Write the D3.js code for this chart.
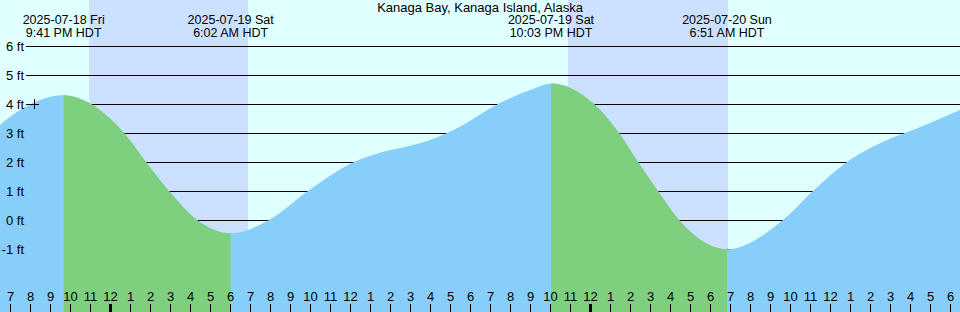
<!DOCTYPE html>
<html>
<head>
<meta charset="utf-8">
<script src="https://cdn.jsdelivr.net/npm/d3@7"></script>
<style>
  html, body { margin: 0; padding: 0; background: #fff; }
  svg { display: block; font-family: "Liberation Sans", Arial, sans-serif; }
</style>
</head>
<body>
<div id="chart"></div>
<script>
const title = 'Kanaga Bay, Kanaga Island, Alaska';

// tide height samples (local HDT wall time, feet)
const sampleTimes = [
  '2025-07-18T18:30', '2025-07-18T19:30', '2025-07-18T20:30', '2025-07-18T21:41',
  '2025-07-18T23:03', '2025-07-19T00:42', '2025-07-19T01:48', '2025-07-19T02:57',
  '2025-07-19T04:21', '2025-07-19T06:02', '2025-07-19T07:57', '2025-07-19T09:54',
  '2025-07-19T12:12', '2025-07-19T13:30', '2025-07-19T15:09', '2025-07-19T16:00',
  '2025-07-19T16:51', '2025-07-19T17:39', '2025-07-19T19:24', '2025-07-19T21:00',
  '2025-07-19T22:03', '2025-07-20T00:12', '2025-07-20T01:27', '2025-07-20T02:24',
  '2025-07-20T03:24', '2025-07-20T04:27', '2025-07-20T06:51', '2025-07-20T09:39',
  '2025-07-20T11:09', '2025-07-20T12:51', '2025-07-20T14:00', '2025-07-20T14:51',
  '2025-07-20T15:45', '2025-07-20T17:21', '2025-07-20T18:30'
];
const sampleLevels = [
  3.28, 3.79, 4.14, 4.30,
  4.00, 3.00, 2.00, 1.00,
  0.00, -0.46, 0.00, 1.00,
  2.00, 2.32, 2.59, 2.76,
  3.00, 3.28, 4.00, 4.48,
  4.71, 4.00, 3.00, 2.00,
  1.00, 0.00, -1.01, 0.00,
  1.00, 2.00, 2.47, 2.76,
  3.00, 3.45, 3.79
];

// high / low events labelled along the top
const eventTimes = ['2025-07-18T21:41', '2025-07-19T06:02', '2025-07-19T22:03', '2025-07-20T06:51'];
const eventTypes = ['high', 'low', 'high', 'low'];

// night (sunset -> sunrise)
const nightStarts = ['2025-07-18T22:57', '2025-07-19T22:54'];
const nightEnds = ['2025-07-19T06:54', '2025-07-20T06:54'];

const yTicks = [-1, 0, 1, 2, 3, 4, 5, 6];
const domainStart = '2025-07-18T18:30';
const domainEnd = '2025-07-20T18:30';

const width = 960, height = 312;
const colors = { day: '#e0ffff', night: '#cce0ff', flood: '#87cefa', ebb: '#7ecf7e', ink: '#000' };

const parse = (s) => new Date(s + ':00Z'); // wall-clock time kept as UTC
const data = sampleTimes.map((t, i) => ({ t: parse(t), v: sampleLevels[i] }));

const x = d3.scaleUtc()
  .domain([parse(domainStart), parse(domainEnd)])
  .range([0, width]);
const y = d3.scaleLinear()
  .domain([-1, 6])
  .range([249, 46]);

const svg = d3.select('#chart').append('svg')
  .attr('width', width)
  .attr('height', height);

// background: day, then night bands
svg.append('rect')
  .attr('width', width).attr('height', height)
  .attr('fill', colors.day);
svg.selectAll('rect.night')
  .data(nightStarts.map((s, i) => [parse(s), parse(nightEnds[i])]))
  .enter().append('rect')
  .attr('class', 'night')
  .attr('x', (d) => x(d[0]))
  .attr('width', (d) => x(d[1]) - x(d[0]))
  .attr('y', 0).attr('height', height)
  .attr('fill', colors.night);

// foot lines, covered later by the water
svg.selectAll('line.grid')
  .data(yTicks.filter((d) => d > -1 || true))
  .enter().append('line')
  .attr('class', 'grid')
  .attr('x1', 26).attr('x2', width)
  .attr('y1', (d) => y(d)).attr('y2', (d) => y(d))
  .attr('stroke', colors.ink)
  .attr('stroke-width', 1)
  .attr('shape-rendering', 'crispEdges');

// water
const area = d3.area()
  .curve(d3.curveMonotoneX)
  .x((d) => x(d.t))
  .y0(height)
  .y1((d) => y(d.v));

svg.append('path')
  .datum(data)
  .attr('d', area)
  .attr('fill', colors.flood);

// ebbing stretches (high -> following low) in green
const ebbs = [];
eventTypes.forEach((type, i) => {
  if (type === 'high' && eventTimes[i + 1]) ebbs.push([parse(eventTimes[i]), parse(eventTimes[i + 1])]);
});
const defs = svg.append('defs');
const clip = defs.append('clipPath').attr('id', 'ebb-clip');
clip.selectAll('rect')
  .data(ebbs)
  .enter().append('rect')
  .attr('x', (d) => x(d[0]))
  .attr('width', (d) => x(d[1]) - x(d[0]))
  .attr('y', 0).attr('height', height);

svg.append('path')
  .datum(data)
  .attr('d', area)
  .attr('fill', colors.ebb)
  .attr('clip-path', 'url(#ebb-clip)');

// y labels
svg.selectAll('text.ylab')
  .data(yTicks)
  .enter().append('text')
  .attr('class', 'ylab')
  .attr('x', 24)
  .attr('y', (d) => y(d))
  .attr('dy', '0.35em')
  .attr('text-anchor', 'end')
  .attr('font-size', 13)
  .attr('fill', colors.ink)
  .text((d) => d + ' ft');

// small cross marker near the 4 ft label
const mark = svg.append('g')
  .attr('stroke', colors.ink)
  .attr('stroke-width', 1)
  .attr('shape-rendering', 'crispEdges');
mark.append('line').attr('x1', 29).attr('x2', 39).attr('y1', y(4)).attr('y2', y(4));
mark.append('line').attr('x1', 34).attr('x2', 34).attr('y1', y(4) - 5).attr('y2', y(4) + 5);

// hour axis at the bottom
const hourAxis = d3.axisTop(x)
  .ticks(d3.utcHour.every(1))
  .tickFormat(d3.utcFormat('%-I'))
  .tickSize(8)
  .tickPadding(3);

const axisG = svg.append('g')
  .attr('transform', `translate(0,${height})`)
  .call(hourAxis);
axisG.select('.domain').remove();
axisG.selectAll('text')
  .attr('font-size', 13)
  .attr('font-family', '"Liberation Sans", Arial, sans-serif')
  .attr('fill', colors.ink);
axisG.selectAll('.tick line')
  .attr('stroke', colors.ink)
  .attr('stroke-width', (d) => (d.getUTCHours() === 0 ? 3 : 1));

// title and event labels
svg.append('text')
  .attr('x', width / 2)
  .attr('y', 11.5)
  .attr('text-anchor', 'middle')
  .attr('font-size', 13)
  .attr('fill', colors.ink)
  .text(title);

const fmtDate = d3.utcFormat('%Y-%m-%d %a');
const fmtTime = d3.utcFormat('%-I:%M %p HDT');
const labels = svg.selectAll('g.event')
  .data(eventTimes.map(parse))
  .enter().append('g')
  .attr('class', 'event')
  .attr('transform', (d) => `translate(${x(d)},0)`);
labels.append('text')
  .attr('y', 24)
  .attr('text-anchor', 'middle')
  .attr('font-size', 12.5)
  .attr('fill', colors.ink)
  .text(fmtDate);
labels.append('text')
  .attr('y', 36.5)
  .attr('text-anchor', 'middle')
  .attr('font-size', 12.5)
  .attr('fill', colors.ink)
  .text(fmtTime);
</script>
</body>
</html>
